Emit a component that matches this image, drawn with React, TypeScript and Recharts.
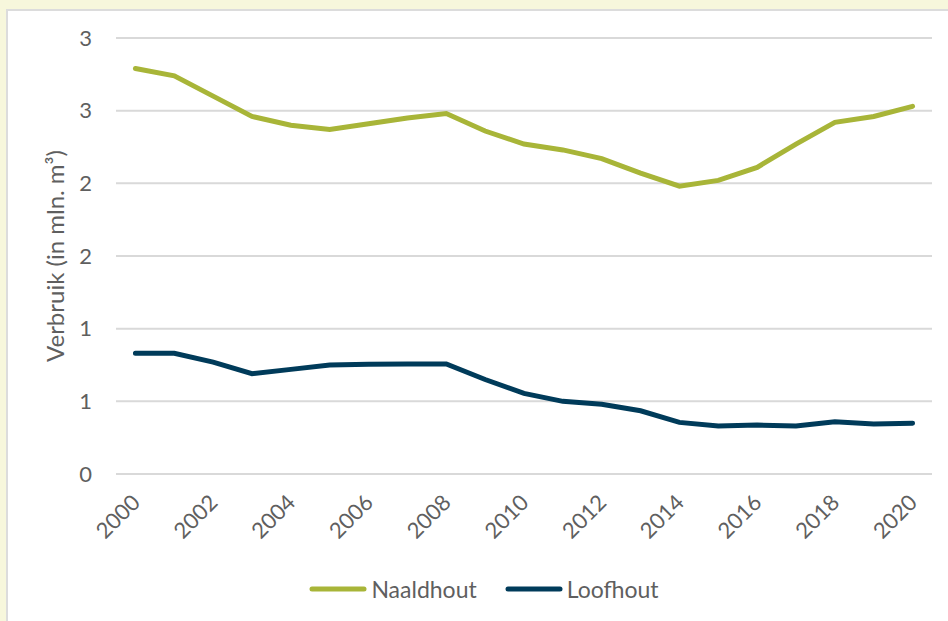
import React from "react";
import { LineChart, Line, XAxis, YAxis, CartesianGrid, Legend } from "recharts";

const years = [2000, 2001, 2002, 2003, 2004, 2005, 2006, 2007, 2008, 2009, 2010, 2011, 2012, 2013, 2014, 2015, 2016, 2017, 2018, 2019, 2020];
const naaldhout = [2.79, 2.74, 2.6, 2.46, 2.4, 2.37, 2.41, 2.45, 2.48, 2.36, 2.27, 2.23, 2.17, 2.07, 1.98, 2.02, 2.11, 2.27, 2.42, 2.46, 2.53];
const loofhout = [0.83, 0.83, 0.77, 0.69, 0.72, 0.75, 0.755, 0.757, 0.757, 0.65, 0.555, 0.5, 0.48, 0.435, 0.355, 0.33, 0.337, 0.33, 0.36, 0.344, 0.35];
const xTicks = [2000, 2002, 2004, 2006, 2008, 2010, 2012, 2014, 2016, 2018, 2020];
const yTicks = [0, 0.5, 1, 1.5, 2, 2.5, 3];
const seriesNames = ["Naaldhout", "Loofhout"];
const seriesColors = ["#A8B538", "#003B5A"];

const data = years.map((y, i) => ({ year: y, Naaldhout: naaldhout[i], Loofhout: loofhout[i] }));

const FONT = "Lato, 'Open Sans', sans-serif";
const TEXT = "#5F5F5F";
const FS = 22;

const XTick = (props: any) => {
  const { x, y, payload } = props;
  return (
    <text
      x={x + 6}
      y={y + 22}
      textAnchor="end"
      fill={TEXT}
      fontSize={FS}
      fontFamily={FONT}
      transform={`rotate(-45, ${x + 6}, ${y + 22})`}
    >
      {payload.value}
    </text>
  );
};

const LegendContent = () => (
  <div style={{ display: "flex", justifyContent: "center", alignItems: "center", fontFamily: FONT, fontSize: 23, color: TEXT, paddingLeft: 36 }}>
    {seriesNames.map((n, i) => (
      <div key={n} style={{ display: "flex", alignItems: "center", marginRight: i === 0 ? 28 : 0 }}>
        <svg width={58} height={10} style={{ marginRight: 4 }}>
          <line x1={3} y1={5} x2={55} y2={5} stroke={seriesColors[i]} strokeWidth={5} strokeLinecap="round" />
        </svg>
        <span>{n}</span>
      </div>
    ))}
  </div>
);

export default function App() {
  return (
    <div style={{ position: "fixed", left: 0, top: 0, width: 948, height: 621, background: "#F7F7DC", overflow: "hidden" }}>
      <div style={{ position: "absolute", left: 6, top: 9, width: 950, height: 620, background: "#FFFFFF", border: "2px solid #DCDCDC", boxSizing: "border-box" }} />
      <div style={{ position: "absolute", left: 0, top: 0 }}>
        <LineChart width={948} height={621} data={data} margin={{ top: 38, right: 16, bottom: 16, left: 0 }}>
          <CartesianGrid vertical={false} stroke="#D9D9D9" strokeWidth={2} />
          <XAxis
            dataKey="year"
            type="number"
            domain={[1999.5, 2020.5]}
            ticks={xTicks}
            axisLine={false}
            tickLine={false}
            height={101}
            tick={<XTick />}
            interval={0}
          />
          <YAxis
            domain={[0, 3]}
            ticks={yTicks}
            width={116}
            axisLine={false}
            tickLine={false}
            tickSize={0}
            tickMargin={24}
            tickFormatter={(v: number) => String(Math.round(v))}
            tick={{ fill: TEXT, fontSize: FS, fontFamily: FONT }}
            label={{ value: "Verbruik (in mln. m³)", angle: -90, position: "insideLeft", dx: 50, dy: 0, style: { textAnchor: "middle", fill: TEXT, fontSize: 24, fontFamily: FONT } }}
          />
          <Legend verticalAlign="bottom" height={30} content={<LegendContent />} />
          <Line dataKey="Naaldhout" stroke={seriesColors[0]} strokeWidth={5} dot={false} isAnimationActive={false} strokeLinecap="round" />
          <Line dataKey="Loofhout" stroke={seriesColors[1]} strokeWidth={5} dot={false} isAnimationActive={false} strokeLinecap="round" />
        </LineChart>
      </div>
    </div>
  );
}
